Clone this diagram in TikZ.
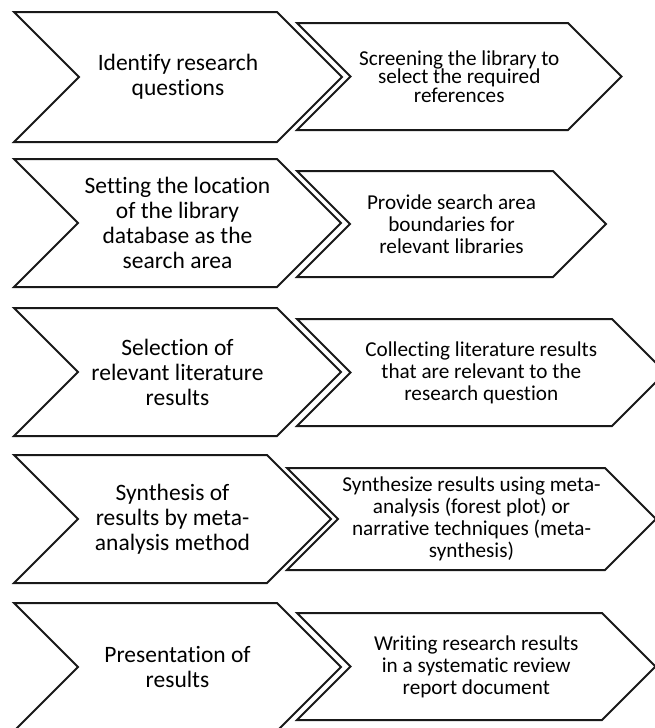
\documentclass[tikz,border=0pt]{standalone}
\usepackage{fontspec}
\setmainfont{Carlito}[Ligatures={NoCommon}]

\tikzset{
  chev/.style={draw=black!90, line width=1pt, line join=miter, fill=white},
  ltxt/.style={align=center, inner sep=0pt, font=\fontsize{11.75}{12.5}\selectfont},
  rtxt/.style={align=center, inner sep=0pt, font=\fontsize{10.6}{11}\selectfont}
}

\begin{document}
\begin{tikzpicture}[x=0.5pt,y=-0.5pt]
            \useasboundingbox (0,0) rectangle (654,728);

            % left and right chevron of each step
            \foreach \i/\lt/\lb/\lc/\rl/\rt/\rb/\rc in {1/12/142/277/297/23/130/568,
                2/159/287/277/297/171/277/553, 3/308/436/277/297/319/426/612,
                4/455/583/267/287/468/570/605, 5/603/731/277/297/613/720/602}
            {
              \pgfmathsetmacro\lm{(\lt+\lb)/2}
              \pgfmathsetmacro\lh{(\lb-\lt)/2}
              \pgfmathsetmacro\rmid{(\rt+\rb)/2}
              \pgfmathsetmacro\rh{(\rb-\rt)/2}
              \draw[chev] (14,\lt) -- (\lc,\lt) -- (\lc+\lh,\lm) -- (\lc,\lb)
                -- (14,\lb) -- (14+\lh,\lm) -- cycle;
              \draw[chev] (\rl,\rt) -- (\rc,\rt) -- (\rc+\rh,\rmid) -- (\rc,\rb)
                -- (\rl,\rb) -- (\rl+\rh,\rmid) -- cycle;
              \coordinate (L\i) at ({(14+\lh+\lc)/2},\lm);
              \coordinate (R\i) at ({(\rl+\rh+\rc)/2},\rmid);
            }

            \node[ltxt] (identify) at (L1) {Identify research\\questions};
            \node[ltxt] (setting) at (L2) {Setting the location\\of the library\\database as the\\search area};
            \node[ltxt] (selection) at (L3) {Selection of\\relevant literature\\results};
            \node[ltxt] (synthesis) at (L4) {Synthesis of\\results by meta-\\analysis method};
            \node[ltxt] (presentation) at (L5) {Presentation of\\results};

            \node[rtxt, font=\fontsize{10.6}{9.3}\selectfont] (screening) at (R1) {Screening the library to\\select the required\\references};
            \node[rtxt] (provide) at (R2) {Provide search area\\boundaries for\\relevant libraries};
            \node[rtxt] (collecting) at (R3) {Collecting literature results\\that are relevant to the\\research question};
            \node[rtxt] (synthesize) at (R4) {Synthesize results using meta-\\analysis (forest plot) or\\narrative techniques (meta-\\synthesis)};
            \node[rtxt] (writing) at (R5) {Writing research results\\in a systematic review\\report document};
            \end{tikzpicture}
\end{document}
